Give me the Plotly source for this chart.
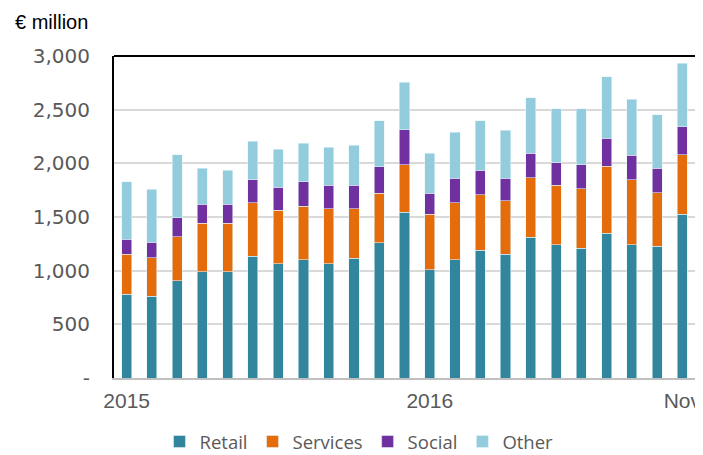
import plotly.graph_objects as go

months = list(range(23))
tick_positions = [0, 12, 22]
tick_labels = ["2015", "2016", "Nov"]

retail   = [779, 763, 907, 991, 991, 1135, 1066, 1104, 1066, 1116, 1260, 1545,
            1010, 1101, 1188, 1151, 1310, 1241, 1207, 1348, 1241, 1226, 1526]
services = [375, 356, 409, 451, 451, 500, 498, 494, 513, 463, 463, 444,
            516, 531, 519, 500, 554, 554, 554, 625, 607, 500, 553]
social   = [141, 144, 176, 175, 175, 210, 212, 231, 216, 216, 247, 322,
            194, 229, 229, 210, 231, 209, 228, 263, 228, 228, 263]
other    = [534, 494, 587, 337, 319, 360, 357, 357, 353, 372, 428, 444,
            375, 428, 462, 447, 516, 504, 519, 572, 519, 498, 591]

y_ticks = [0, 500, 1000, 1500, 2000, 2500, 3000]
y_tick_labels = ["-", "500", "1,000", "1,500", "2,000", "2,500", "3,000"]

series = [
    ("Retail", retail, "#31859C"),
    ("Services", services, "#E46C0A"),
    ("Social", social, "#7030A0"),
    ("Other", other, "#93CDDD"),
]

# page body has an 8px margin, so the figure is drawn 8px in from the top-left
W, H = 695, 447
L, T, R, B = 106, 48, 8, 77
PW, PH = W - L - R, H - T - B

fig = go.Figure()
for name, vals, color in series:
    fig.add_trace(go.Bar(
        x=months, y=vals, name=name,
        marker=dict(color=color, line=dict(color="rgba(230,245,250,0.7)", width=0.8)),
    ))

fig.update_layout(
    barmode="stack",
    bargap=0.6,
    width=W, height=H,
    margin=dict(l=L, r=R, t=T, b=B, autoexpand=False),
    paper_bgcolor="white",
    plot_bgcolor="white",
    font=dict(family="Liberation Sans, Arial, sans-serif", color="#595959"),
    showlegend=True,
    legend=dict(
        orientation="h",
        x=(151.5 - L) / PW, xanchor="left",
        yref="container",
        y=1 - 434 / H, yanchor="middle",
        font=dict(size=18.5, color="#595959", family="Open Sans, sans-serif"),
        itemwidth=30,
        traceorder="normal",
    ),
    xaxis=dict(
        range=[-0.5, 22.5],
        tickmode="array", tickvals=tick_positions, ticktext=tick_labels,
        tickfont=dict(size=21, color="#595959"),
        showgrid=False,
        showline=True, linecolor="#BFBFBF", linewidth=2,
        ticks="", ticklen=0,
        zeroline=False,
        automargin=False,
        ticklabeloverflow="allow",
        ticklabelstandoff=3,
    ),
    yaxis=dict(
        range=[0, 3000],
        tickmode="array", tickvals=y_ticks, ticktext=y_tick_labels,
        tickfont=dict(size=20, color="#595959", family="DejaVu Sans, sans-serif"),
        showgrid=True, gridcolor="#D9D9D9", gridwidth=1.5,
        showline=True, linecolor="black", linewidth=2, mirror=True,
        ticks="", zeroline=False,
        automargin=False,
        ticklabelstandoff=18,
    ),
    shapes=[dict(type="line", xref="paper", yref="paper", x0=0, x1=1, y0=1, y1=1,
                 line=dict(color="black", width=2))],
    annotations=[dict(text="€ million", xref="paper", yref="paper",
                      x=(5 - L) / PW, xanchor="left",
                      y=1 + (T - 14) / PH, yanchor="middle", showarrow=False,
                      font=dict(size=20, color="black", family="Liberation Sans, Arial, sans-serif"))],
)

fig.write_html("out.html")
